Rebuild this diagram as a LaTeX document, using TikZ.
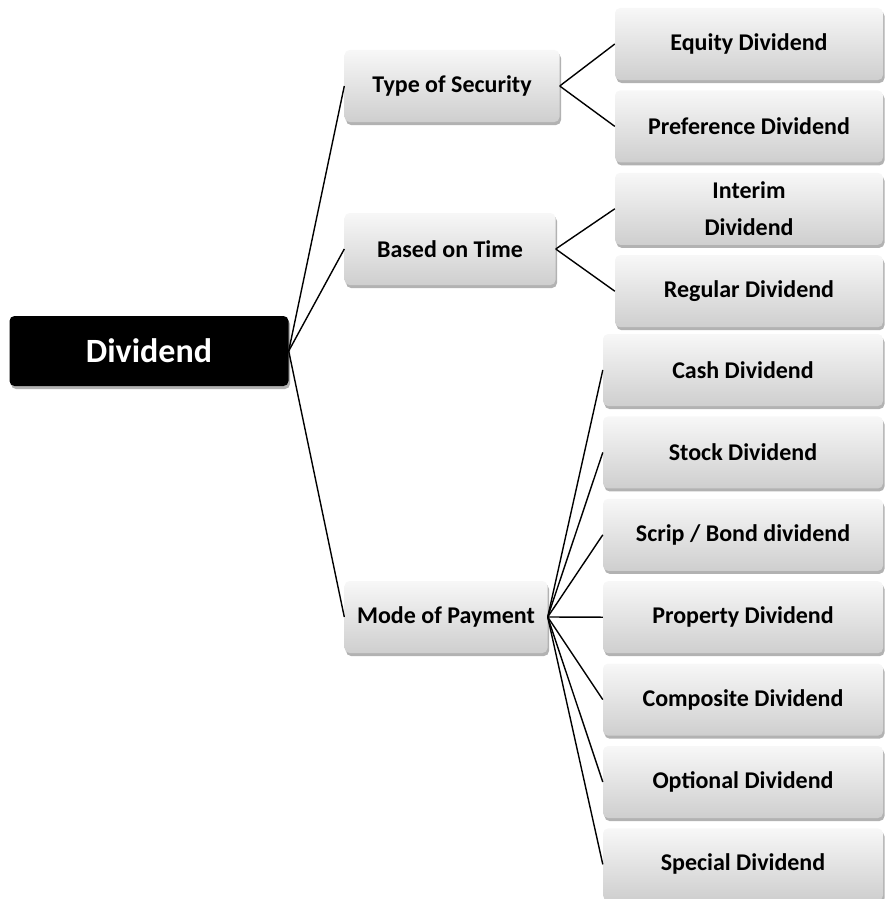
\documentclass[tikz,border=0pt]{standalone}
\usepackage{fontspec}
\setmainfont{Carlito}
\usepackage{tikz}
\usetikzlibrary{positioning,shadows}

\begin{document}
\begin{tikzpicture}[
    x=1pt, y=-1pt,
    font=\bfseries\fontsize{24}{28}\selectfont,
    basebox/.style={rounded corners=5pt, align=center, minimum height=72pt, inner sep=2pt,
      top color=gray!6, bottom color=gray!38, draw=none,
      drop shadow={shadow xshift=1.5pt, shadow yshift=-3pt, fill=black, opacity=0.3}},
    rootbox/.style={rounded corners=5pt, fill=black, text=white, minimum width=279pt, minimum height=70pt,
      font=\bfseries\fontsize{34}{40}\selectfont,
      drop shadow={shadow xshift=1.5pt, shadow yshift=-3pt, fill=black, opacity=0.3}},
    catbox/.style={basebox},
    leafbox/.style={basebox, minimum width=268pt},
    paybox/.style={basebox, minimum width=280pt},
    link/.style={line width=1.4pt, black}
  ]
  \useasboundingbox (0,0) rectangle (884,899);

  % root and categories
  \node[rootbox] (root) at (149,351) {Dividend};
  \node[catbox, minimum width=215pt] (security) at (452,86) {Type of Security};
  \node[catbox, minimum width=211pt] (time) at (450,249) {Based on Time};
  \node[catbox, minimum width=203pt] (payment) at (446,617) {Mode of Payment};

  % leaves
  \node[leafbox] (equity) at (749,44) {Equity Dividend};
  \node[leafbox, below=10pt of equity] (preference) {Preference Dividend};
  \node[leafbox, below=10pt of preference, font=\bfseries\fontsize{24}{37}\selectfont] (interim) {Interim\\Dividend};
  \node[leafbox, below=10pt of interim] (regular) {Regular Dividend};

  \node[paybox] (cash) at (743,370) {Cash Dividend};
  \node[paybox, below=10pt of cash] (stock) {Stock Dividend};
  \node[paybox, below=10pt of stock] (scrip) {Scrip / Bond dividend};
  \node[paybox, below=10pt of scrip] (property) {Property Dividend};
  \node[paybox, below=10pt of property] (composite) {Composite Dividend};
  \node[paybox, below=10pt of composite] (optional) {Optional Dividend};
  \node[paybox, below=10pt of optional] (special) {Special Dividend};

  % connectors
  \draw[link] (root.east) -- (security.west);
  \draw[link] (root.east) -- (time.west);
  \draw[link] (root.east) -- (payment.west);
  \draw[link] (security.east) -- (equity.west);
  \draw[link] (security.east) -- (preference.west);
  \draw[link] (time.east) -- (interim.west);
  \draw[link] (time.east) -- (regular.west);
  \draw[link] (payment.east) -- (cash.west);
  \draw[link] (payment.east) -- (stock.west);
  \draw[link] (payment.east) -- (scrip.west);
  \draw[link] (payment.east) -- (property.west);
  \draw[link] (payment.east) -- (composite.west);
  \draw[link] (payment.east) -- (optional.west);
  \draw[link] (payment.east) -- (special.west);
\end{tikzpicture}
\end{document}
